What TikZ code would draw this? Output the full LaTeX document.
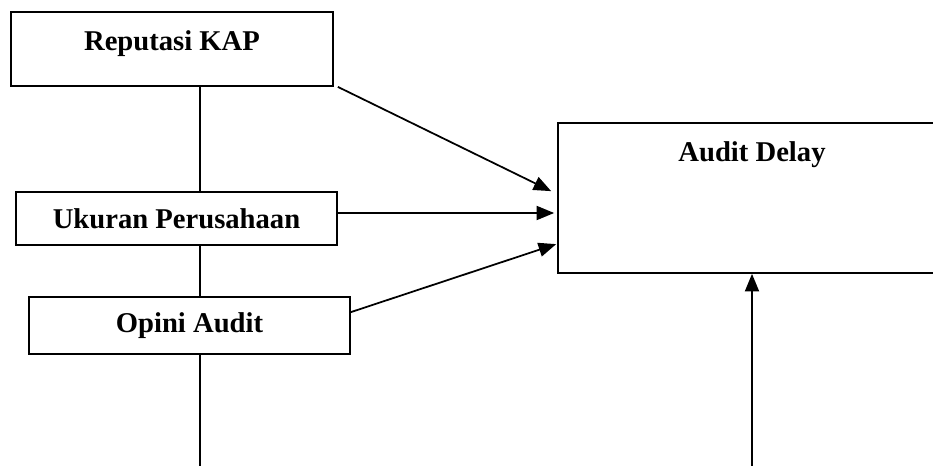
\documentclass[tikz,border=0pt]{standalone}
\usepackage{fontspec}
\setmainfont{Liberation Serif}
\usetikzlibrary{calc,arrows.meta}
\tikzset{
    box/.style={rectangle, draw, line width=1pt, font=\bfseries\fontsize{16.3}{19}\selectfont},
    heading/.style={label={[anchor=north, inner sep=0pt, yshift=-11pt, font=\bfseries\fontsize{16.3}{19}\selectfont]north:#1}},
    edge/.style={draw, line width=1pt, -{Triangle[length=10pt, width=8pt]}},
    spine/.style={draw, line width=1pt}
}
\begin{document}
\begin{tikzpicture}[x=0.02cm, y=-0.02cm]
    \clip (0,0) rectangle (933,466);
    % Nodes
    \node[box, minimum width=6.44cm, minimum height=1.48cm, heading={Reputasi KAP}] (rep) at (172,49) {};
    \node[box, minimum width=6.42cm, minimum height=1.06cm] (uk) at (176.5,218.5) {Ukuran Perusahaan};
    \node[box, minimum width=6.42cm, minimum height=1.14cm] (op) at (189.5,325.5) {Opini Audit};
    \node[box, minimum width=7.76cm, minimum height=3.0cm, heading={Audit Delay}] (delay) at (752,198) {};
    \coordinate (low) at (200,472);
    \coordinate (ukout) at ($(uk.east)+(0,-5.5)$);

    % edges
    \draw[spine] (rep.south -| low) -- (uk.north -| low);
    \draw[spine] (uk.south -| low) -- (op.north -| low);
    \draw[spine] (op.south -| low) -- (low);
    \draw[edge] ($(rep.south east)+(4,0)$) -- ($(delay.north west)+(-6,69)$);
    \draw[edge] (ukout) -- ($(ukout -| delay.west)+(-3,0)$);
    \draw[edge] ($(op.north east)+(0,16)$) -- ($(delay.north west)+(-1,122)$);
    \draw[edge] (delay.south |- low) -- (delay.south);
\end{tikzpicture}
\end{document}
